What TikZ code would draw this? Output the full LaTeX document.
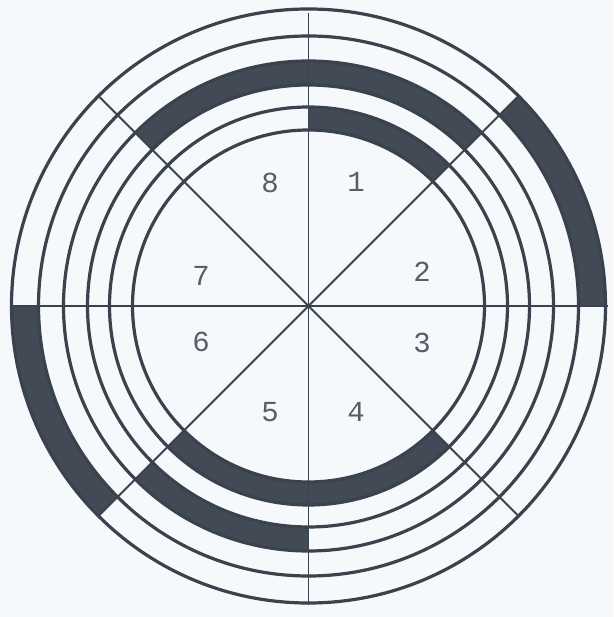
\documentclass[tikz,border=0pt]{standalone}
\usepackage{fontspec}
\newfontfamily\digitfont{Liberation Mono}
\definecolor{inkc}{RGB}{58,66,78}
\definecolor{bandc}{RGB}{66,74,86}
\definecolor{paperc}{RGB}{246,249,251}
\definecolor{numc}{RGB}{88,94,104}
\tikzset{
  ringline/.style={draw=inkc, line width=3.2pt},
  spoke/.style={draw=inkc, line width=1.8pt},
  numlabel/.style={text=numc, font=\digitfont\fontsize{29}{29}\selectfont, inner sep=0pt},
  bandfill/.style={fill=bandc}
}
\newcommand\bandsector[4]{% start angle, end angle, inner r, outer r
  \fill[bandfill] (#1:#3) arc[start angle=#1, end angle=#2, radius=#3]
    -- (#2:#4) arc[start angle=#2, end angle=#1, radius=#4] -- cycle;}
\begin{document}
\begin{tikzpicture}[x=1pt,y=1pt]
\fill[paperc] (0,0) rectangle (613,617);
\useasboundingbox (0,0) rectangle (613,617);
\begin{scope}[shift={(308.5,311)}]
  % dark bands
  \bandsector{0}{45}{270}{297}
  \bandsector{180}{225}{270}{297}
  \bandsector{45}{135}{221}{245}
  \bandsector{225}{270}{221}{245}
  \bandsector{45}{90}{176}{199}
  \bandsector{225}{315}{176}{199}
  % circles
  \foreach \r in {176,199,221,245,270,297} {
    \draw[ringline] (0,0) circle[radius=\r];
  }
  % spokes
  \coordinate (c) at (0,0);
  \coordinate (e) at (0:299);
  \coordinate (w) at (180:299);
  \coordinate (n) at (90:293);
  \coordinate (s) at (270:299);
  \coordinate (ne) at (45:297);
  \coordinate (sw) at (225:297);
  \coordinate (nw) at (135:297);
  \coordinate (se) at (315:297);
  \draw[spoke] (w) -- (e);
  \draw[spoke] (n) -- (s);
  \draw[spoke] (ne) -- (sw);
  \draw[spoke] (nw) -- (se);
  % labels
  \node[numlabel] (l1) at (47.5,124) {1};
  \node[numlabel] (l8) at (-38.5,123) {8};
  \node[numlabel] (l2) at (113.5,34) {2};
  \node[numlabel] (l7) at (-107.5,30) {7};
  \node[numlabel] (l6) at (-107.5,-36) {6};
  \node[numlabel] (l3) at (113.5,-37) {3};
  \node[numlabel] (l5) at (-38.5,-106) {5};
  \node[numlabel] (l4) at (47.5,-106) {4};
\end{scope}
\end{tikzpicture}
\end{document}
